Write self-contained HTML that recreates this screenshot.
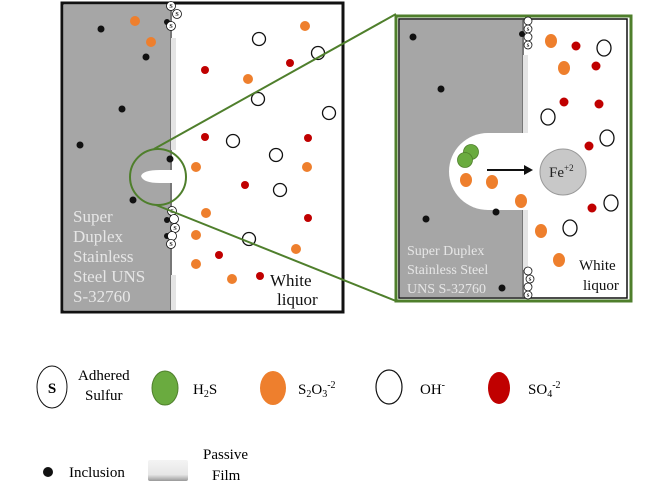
<!DOCTYPE html>
<html><head><meta charset="utf-8"><style>
html,body{margin:0;padding:0;background:#fff;width:665px;height:488px;overflow:hidden}
svg{display:block;font-family:"Liberation Serif",serif}
</style></head><body>
<svg width="665" height="488" viewBox="0 0 665 488">
<defs>
<linearGradient id="pf" x1="0" y1="0" x2="0" y2="1"><stop offset="0" stop-color="#f4f4f4"/><stop offset="0.7" stop-color="#e6e6e6"/><stop offset="1" stop-color="#999"/></linearGradient>
</defs>
<!-- LEFT BOX -->
<rect x="62" y="3" width="281" height="309" fill="#fff" stroke="#111" stroke-width="3"/>
<rect x="64" y="5" width="107" height="305" fill="#a6a6a6"/>
<rect x="170" y="5" width="2" height="305" fill="#777"/>
<rect x="171" y="38" width="5" height="112" fill="#e4e4e4"/>
<rect x="171" y="275" width="5" height="35" fill="#e4e4e4"/>
<path d="M141,176 Q143,170 160,170 L178,170 L178,183 L160,183 Q143,183 141,176Z" fill="#fff"/>
<g fill="#111">
<circle cx="101" cy="29" r="3.5"/><circle cx="146" cy="57" r="3.5"/><circle cx="122" cy="109" r="3.5"/><circle cx="80" cy="145" r="3.5"/><circle cx="133" cy="200" r="3.5"/><circle cx="170" cy="159" r="3.5"/><circle cx="167" cy="22" r="3"/><circle cx="167" cy="220" r="3"/><circle cx="167" cy="236" r="3"/>
</g>
<g fill="#ee7f2d">
<circle cx="135" cy="21" r="5"/><circle cx="305" cy="26" r="5"/><circle cx="151" cy="42" r="5"/><circle cx="248" cy="79" r="5"/><circle cx="196" cy="167" r="5"/><circle cx="307" cy="167" r="5"/><circle cx="206" cy="213" r="5"/><circle cx="196" cy="235" r="5"/><circle cx="296" cy="249" r="5"/><circle cx="196" cy="264" r="5"/><circle cx="232" cy="279" r="5"/>
</g>
<g fill="#c00000">
<circle cx="205" cy="70" r="4"/><circle cx="290" cy="63" r="4"/><circle cx="205" cy="137" r="4"/><circle cx="308" cy="138" r="4"/><circle cx="245" cy="185" r="4"/><circle cx="308" cy="218" r="4"/><circle cx="219" cy="255" r="4"/><circle cx="260" cy="276" r="4"/>
</g>
<g fill="#fff" stroke="#111" stroke-width="1.3">
<circle cx="259" cy="39" r="6.5"/><circle cx="318" cy="53" r="6.5"/><circle cx="258" cy="99" r="6.5"/><circle cx="329" cy="113" r="6.5"/><circle cx="233" cy="141" r="6.5"/><circle cx="276" cy="155" r="6.5"/><circle cx="280" cy="190" r="6.5"/><circle cx="249" cy="239" r="6.5"/>
</g>
<g fill="#fff" stroke="#111" stroke-width="0.8">
<circle cx="171" cy="6" r="4.5"/><circle cx="177" cy="14" r="4.5"/><circle cx="171" cy="26" r="4.5"/>
<circle cx="172" cy="211" r="4.5"/><circle cx="174" cy="219" r="4.5"/><circle cx="175" cy="228" r="4.5"/><circle cx="172" cy="236" r="4.5"/><circle cx="171" cy="244" r="4.5"/>
</g>
<g font-size="6" font-weight="bold" text-anchor="middle" fill="#111">
<text x="171" y="8">S</text><text x="177" y="16">S</text><text x="171" y="28">S</text><text x="172" y="213">S</text><text x="175" y="230">S</text><text x="171" y="246">S</text>
</g>
<g fill="#e6e6e6" font-size="17">
<text x="73" y="222">Super</text><text x="73" y="242">Duplex</text><text x="73" y="262">Stainless</text><text x="73" y="282">Steel UNS</text><text x="73" y="302">S-32760</text>
</g>
<text x="270" y="286" font-size="17" fill="#111">White</text>
<text x="277" y="305" font-size="17" fill="#111">liquor</text>
<!-- zoom lines -->
<circle cx="158" cy="177" r="28" fill="none" stroke="#4f7f2c" stroke-width="2"/>
<line x1="154" y1="149" x2="396" y2="14" stroke="#4f7f2c" stroke-width="2"/>
<line x1="156" y1="205" x2="396" y2="301" stroke="#4f7f2c" stroke-width="2"/>
<!-- RIGHT BOX -->
<rect x="396" y="16" width="235" height="285" fill="#fff" stroke="#4f7f2c" stroke-width="3"/>
<rect x="399" y="19" width="228" height="279" fill="#fff" stroke="#111" stroke-width="1.5"/>
<rect x="400" y="20" width="123" height="277" fill="#a6a6a6"/>
<rect x="522" y="20" width="2" height="277" fill="#777"/>
<rect x="523" y="55" width="5" height="80" fill="#e4e4e4"/>
<rect x="523" y="210" width="5" height="60" fill="#e4e4e4"/>
<path d="M528,133 L488,133 A39,38.5 0 0 0 488,210 L528,210Z" fill="#fff"/>
<g fill="#111">
<circle cx="413" cy="37" r="3.5"/><circle cx="441" cy="89" r="3.5"/><circle cx="426" cy="219" r="3.5"/><circle cx="496" cy="212" r="3.5"/><circle cx="502" cy="288" r="3.5"/><circle cx="522" cy="34" r="3"/>
</g>
<g fill="#ee7f2d">
<ellipse cx="551" cy="41" rx="6" ry="7"/><ellipse cx="564" cy="68" rx="6" ry="7"/><ellipse cx="466" cy="180" rx="6" ry="7"/><ellipse cx="492" cy="182" rx="6" ry="7"/><ellipse cx="521" cy="201" rx="6" ry="7"/><ellipse cx="541" cy="231" rx="6" ry="7"/><ellipse cx="559" cy="260" rx="6" ry="7"/>
</g>
<g fill="#c00000">
<circle cx="576" cy="46" r="4.5"/><circle cx="596" cy="66" r="4.5"/><circle cx="564" cy="102" r="4.5"/><circle cx="599" cy="104" r="4.5"/><circle cx="589" cy="146" r="4.5"/><circle cx="592" cy="208" r="4.5"/>
</g>
<g fill="#fff" stroke="#111" stroke-width="1.3">
<ellipse cx="604" cy="48" rx="7" ry="8"/><ellipse cx="548" cy="117" rx="7" ry="8"/><ellipse cx="607" cy="138" rx="7" ry="8"/><ellipse cx="611" cy="203" rx="7" ry="8"/><ellipse cx="570" cy="228" rx="7" ry="8"/>
</g>
<g fill="#6aab3f" stroke="#4f7f2c" stroke-width="0.8">
<circle cx="471" cy="152" r="7.5"/><circle cx="465" cy="160" r="7.5"/>
</g>
<line x1="487" y1="170" x2="526" y2="170" stroke="#111" stroke-width="2"/>
<polygon points="533,170 524,165 524,175" fill="#111"/>
<circle cx="563" cy="172" r="23" fill="#c8c8c8" stroke="#999" stroke-width="1"/>
<text x="549" y="177" font-size="15" fill="#222">Fe<tspan font-size="9" dy="-6">+2</tspan></text>
<g fill="#fff" stroke="#111" stroke-width="0.8">
<circle cx="528" cy="21" r="4"/><circle cx="528" cy="29" r="4"/><circle cx="528" cy="37" r="4"/><circle cx="528" cy="45" r="4"/>
<circle cx="528" cy="271" r="4"/><circle cx="530" cy="279" r="4"/><circle cx="528" cy="287" r="4"/><circle cx="528" cy="295" r="4"/>
</g>
<g font-size="5" font-weight="bold" text-anchor="middle" fill="#111">
<text x="528" y="31">S</text><text x="528" y="47">S</text><text x="530" y="281">S</text><text x="528" y="297">S</text>
</g>
<g fill="#e6e6e6" font-size="14" xml:space="preserve">
<text x="407" y="255">Super   Duplex</text><text x="407" y="274">Stainless  Steel</text><text x="407" y="293">UNS S-32760</text>
</g>
<text x="579" y="270" font-size="15" fill="#111">White</text>
<text x="583" y="290" font-size="15" fill="#111">liquor</text>
<!-- LEGEND -->
<ellipse cx="52" cy="387" rx="15" ry="21" fill="#fff" stroke="#111" stroke-width="1"/>
<text x="52" y="393" font-size="15" font-weight="bold" text-anchor="middle">S</text>
<text x="78" y="380" font-size="15">Adhered</text>
<text x="85" y="400" font-size="15">Sulfur</text>
<ellipse cx="165" cy="388" rx="13" ry="17" fill="#6aab3f" stroke="#4f7f2c"/>
<text x="193" y="394" font-size="15">H<tspan font-size="10" dy="3">2</tspan><tspan dy="-3">S</tspan></text>
<ellipse cx="273" cy="388" rx="13" ry="17" fill="#ee7f2d"/>
<text x="298" y="394" font-size="15">S<tspan font-size="10" dy="3">2</tspan><tspan dy="-3">O</tspan><tspan font-size="10" dy="3">3</tspan><tspan font-size="10" dy="-9">-2</tspan></text>
<ellipse cx="389" cy="387" rx="13" ry="17" fill="#fff" stroke="#111" stroke-width="1.2"/>
<text x="420" y="394" font-size="15">OH<tspan font-size="10" dy="-6">-</tspan></text>
<ellipse cx="499" cy="388" rx="11" ry="16" fill="#c00000"/>
<text x="528" y="394" font-size="15">SO<tspan font-size="10" dy="3">4</tspan><tspan font-size="10" dy="-9">-2</tspan></text>
<circle cx="48" cy="472" r="5" fill="#111"/>
<text x="69" y="477" font-size="15">Inclusion</text>
<rect x="148" y="460" width="40" height="21" rx="2" fill="url(#pf)"/>
<text x="203" y="459" font-size="15">Passive</text>
<text x="212" y="480" font-size="15">Film</text>
</svg>
</body></html>
